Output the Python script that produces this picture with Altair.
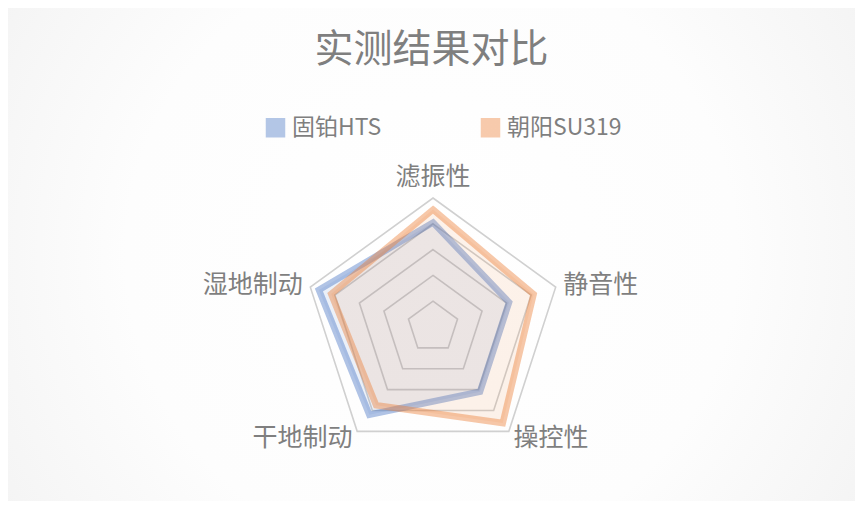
import math
import pandas as pd
import altair as alt

# ---- data ----
categories = ["滤振性", "静音性", "操控性", "干地制动", "湿地制动"]
series_names = ["固铂HTS", "朝阳SU319"]
hts_values = [8.1, 6.2, 6.2, 8.4, 9.3]
su319_values = [9.1, 8.2, 9.2, 7.5, 8.3]
grid_levels = [2, 4, 6, 8, 10]
series_colors = ["#4472c4", "#ed7d31"]

# ---- layout ----
W, H = 847, 493
CX, CY = 425, 319
R = 129
VMAX = 10
s = R / VMAX
x_domain = [-CX / s, (W - CX) / s]
y_domain = [-(H - CY) / s, CY / s]
FONT = "Noto Sans CJK SC"
TEXT_COLOR = "#7f7f7f"

n = len(categories)
angles = [2 * math.pi * i / n for i in range(n)]

rows = []
for name, vals in zip(series_names, [hts_values, su319_values]):
    for i, (c, v) in enumerate(zip(categories, vals)):
        rows.append({"series": name, "cat": c, "idx": i,
                     "x": v * math.sin(angles[i]), "y": v * math.cos(angles[i])})
series_df = pd.DataFrame(rows)

grows = []
for lv in grid_levels:
    for i in range(n):
        grows.append({"level": lv, "idx": i,
                      "x": lv * math.sin(angles[i]), "y": lv * math.cos(angles[i])})
grid_df = pd.DataFrame(grows)

label_r = VMAX + 8 / s
lrows = []
for i, c in enumerate(categories):
    sx = math.sin(angles[i])
    side = "top" if abs(sx) < 0.1 else ("right" if sx > 0 else "left")
    lrows.append({"cat": c, "side": side,
                  "x": label_r * sx, "y": label_r * math.cos(angles[i])})
label_df = pd.DataFrame(lrows)

xs = alt.X("x:Q", scale=alt.Scale(domain=x_domain, nice=False, zero=False), axis=None)
ys = alt.Y("y:Q", scale=alt.Scale(domain=y_domain, nice=False, zero=False), axis=None)

bg = alt.Chart(pd.DataFrame({"a": [0]})).mark_rect(
    fill=alt.Gradient(
        gradient="radial",
        stops=[alt.GradientStop(color="#ffffff", offset=0),
               alt.GradientStop(color="#fdfdfd", offset=0.5),
               alt.GradientStop(color="#efefef", offset=1)],
        x1=0.5, y1=0.5, r1=0, x2=0.5, y2=0.5, r2=0.72,
    )
).encode(x=alt.value(0), x2=alt.value(W), y=alt.value(0), y2=alt.value(H))

grid = alt.Chart(grid_df).mark_line(
    interpolate="linear-closed", stroke="#d0d0d0", strokeWidth=1.6
).encode(x=xs, y=ys, detail="level:N", order="idx:Q")

color_scale = alt.Scale(domain=series_names, range=series_colors)
polys = alt.Chart(series_df).mark_line(
    interpolate="linear-closed", strokeWidth=6.5, strokeOpacity=0.42,
    fillOpacity=0.1, strokeJoin="miter"
).encode(
    x=xs, y=ys, order="idx:Q",
    stroke=alt.Stroke("series:N", scale=color_scale, legend=None),
    fill=alt.Fill("series:N", scale=color_scale, legend=alt.Legend(
        title=None, orient="none", legendX=256, legendY=108,
        direction="horizontal", columnPadding=97, labelOffset=5,
        padding=0, symbolType="square", symbolSize=380,
        symbolStrokeWidth=0, symbolOpacity=0.4,
        labelFont=FONT, labelFontSize=23, labelColor=TEXT_COLOR,
        labelLimit=300,
    )),
)

def text_layer(side, align, baseline):
    return alt.Chart(label_df).transform_filter(
        alt.datum.side == side
    ).mark_text(
        align=align, baseline=baseline, font=FONT, fontSize=25, color=TEXT_COLOR
    ).encode(x=xs, y=ys, text="cat:N")

labels = text_layer("top", "center", "bottom") + text_layer("right", "left", "middle") + \
    text_layer("left", "right", "middle")

chart = alt.layer(bg, grid, polys, labels).properties(
    width=W, height=H,
    autosize=alt.AutoSizeParams(type="none"),
    padding=0,
    title=alt.TitleParams(
        text="实测结果对比", font=FONT, fontSize=39, fontWeight="normal",
        color=TEXT_COLOR, anchor="middle", baseline="top", offset=0, dy=62,
    ),
).configure_view(stroke=None)

chart.save("out.html", embed_options={"renderer": "svg", "actions": False})
